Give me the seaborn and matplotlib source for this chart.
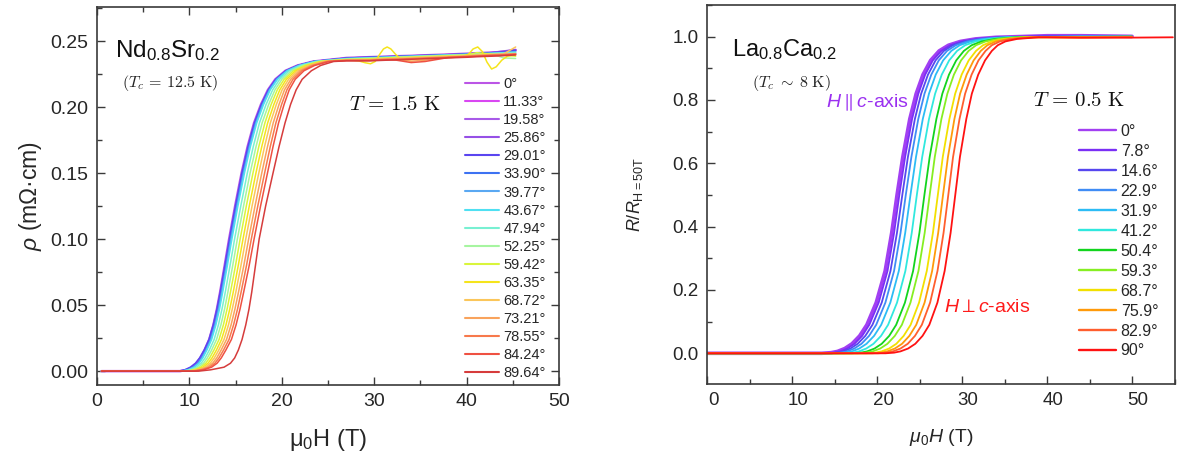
import numpy as np
import pandas as pd
import matplotlib
matplotlib.use("Agg")
import matplotlib.pyplot as plt
import matplotlib.transforms as mtransforms
from matplotlib.ticker import MultipleLocator, FormatStrFormatter
import seaborn as sns

# ---------------- Left panel: Nd0.8Sr0.2, T = 1.5 K ----------------
left_angles = ["0°", "11.33°", "19.58°", "25.86°", "29.01°", "33.90°", "39.77°", "43.67°",
               "47.94°", "52.25°", "59.42°", "63.35°", "68.72°", "73.21°", "78.55°", "84.24°", "89.64°"]
left_colors = ["#bb55e6", "#d947f2", "#a85ae8", "#9650e6", "#5a45f0", "#3d72f2", "#5aa8f2", "#4fe0f2",
               "#78f0d2", "#a6f5a0", "#d9f53c", "#f5e41c", "#fbc65a", "#f9a35c", "#f7794c", "#ef5142", "#d63c3c"]

# resistivity levels of the rising part (mΩ·cm)
rho_levels = [0.0, 0.001, 0.003, 0.006, 0.010, 0.016, 0.024, 0.035, 0.047, 0.060, 0.080,
              0.100, 0.125, 0.150, 0.170, 0.188, 0.202, 0.213, 0.221, 0.2275, 0.2315, 0.2345]
# field (T) at which each curve reaches the levels above
left_rise_H = {
    "0°":     [9.0, 9.7, 10.3, 10.8, 11.2, 11.65, 12.15, 12.6, 12.98, 13.33, 13.82, 14.3, 14.95, 15.65, 16.3, 17.0, 17.75, 18.5, 19.3, 20.4, 21.7, 23.4],
    "11.33°": [9.05, 9.75, 10.35, 10.85, 11.25, 11.7, 12.2, 12.65, 13.03, 13.38, 13.87, 14.35, 15.0, 15.7, 16.35, 17.05, 17.8, 18.55, 19.35, 20.45, 21.75, 23.45],
    "19.58°": [9.05, 9.75, 10.35, 10.87, 11.27, 11.72, 12.22, 12.67, 13.06, 13.41, 13.9, 14.38, 15.03, 15.73, 16.38, 17.08, 17.83, 18.57, 19.37, 20.46, 21.76, 23.45],
    "25.86°": [9.06, 9.77, 10.38, 10.89, 11.29, 11.74, 12.25, 12.7, 13.08, 13.43, 13.93, 14.41, 15.06, 15.76, 16.41, 17.1, 17.85, 18.59, 19.39, 20.48, 21.77, 23.47],
    "29.01°": [8.8, 9.5, 10.1, 10.65, 11.1, 11.6, 12.12, 12.58, 12.98, 13.34, 13.84, 14.33, 14.98, 15.68, 16.33, 17.03, 17.78, 18.53, 19.33, 20.43, 21.73, 23.43],
    "33.90°": [9.08, 9.8, 10.42, 10.92, 11.32, 11.78, 12.28, 12.73, 13.12, 13.47, 13.97, 14.45, 15.1, 15.8, 16.45, 17.15, 17.89, 18.63, 19.42, 20.51, 21.8, 23.49],
    "39.77°": [9.11, 9.84, 10.46, 10.97, 11.37, 11.82, 12.33, 12.78, 13.17, 13.52, 14.02, 14.5, 15.16, 15.86, 16.51, 17.2, 17.94, 18.67, 19.46, 20.55, 21.84, 23.53],
    "43.67°": [9.17, 9.9, 10.53, 11.04, 11.45, 11.9, 12.41, 12.87, 13.26, 13.61, 14.11, 14.6, 15.25, 15.96, 16.6, 17.29, 18.03, 18.75, 19.54, 20.62, 21.9, 23.59],
    "47.94°": [9.33, 10.11, 10.76, 11.28, 11.7, 12.16, 12.68, 13.14, 13.53, 13.89, 14.4, 14.89, 15.56, 16.27, 16.91, 17.58, 18.3, 19.01, 19.77, 20.84, 22.11, 23.77],
    "52.25°": [9.5, 10.31, 10.99, 11.53, 11.94, 12.41, 12.94, 13.41, 13.81, 14.17, 14.69, 15.19, 15.86, 16.57, 17.21, 17.87, 18.58, 19.26, 20.01, 21.06, 22.31, 23.96],
    "59.42°": [9.66, 10.51, 11.22, 11.77, 12.19, 12.66, 13.21, 13.68, 14.08, 14.45, 14.99, 15.49, 16.16, 16.88, 17.51, 18.17, 18.85, 19.51, 20.25, 21.28, 22.51, 24.15],
    "63.35°": [9.83, 10.73, 11.47, 12.02, 12.45, 12.93, 13.48, 13.96, 14.37, 14.75, 15.29, 15.8, 16.48, 17.2, 17.83, 18.47, 19.14, 19.78, 20.49, 21.51, 22.73, 24.34],
    "68.72°": [10.0, 10.93, 11.7, 12.26, 12.7, 13.18, 13.75, 14.23, 14.64, 15.03, 15.58, 16.1, 16.78, 17.51, 18.13, 18.76, 19.41, 20.03, 20.73, 21.73, 22.93, 24.53],
    "73.21°": [10.17, 11.14, 11.94, 12.52, 12.96, 13.44, 14.02, 14.51, 14.93, 15.32, 15.89, 16.41, 17.1, 17.83, 18.45, 19.07, 19.7, 20.29, 20.98, 21.96, 23.14, 24.73],
    "78.55°": [10.34, 11.35, 12.17, 12.76, 13.2, 13.7, 14.29, 14.78, 15.21, 15.6, 16.18, 16.7, 17.4, 18.14, 18.75, 19.36, 19.98, 20.55, 21.21, 22.18, 23.35, 24.91],
    "84.24°": [10.5, 11.55, 12.4, 13.0, 13.45, 13.95, 14.55, 15.05, 15.48, 15.88, 16.47, 17.0, 17.7, 18.45, 19.05, 19.65, 20.25, 20.8, 21.45, 22.4, 23.55, 25.1],
    "89.64°": [11.0, 12.3, 13.75, 14.45, 14.9, 15.3, 15.7, 16.1, 16.45, 16.75, 17.15, 17.55, 18.25, 19.05, 19.7, 20.35, 20.95, 21.55, 22.2, 23.2, 24.2, 25.6],
}
# plateau part, common field grid (T) and resistivity values
left_plateau_H = [27, 29.5, 31.4, 32.4, 34, 35.5, 38, 40, 41.1, 42.7, 44, 45.3]
left_plateau_rho = {
    "0°":     [0.2372, 0.2378, 0.2382, 0.2385, 0.2388, 0.2392, 0.2398, 0.2404, 0.2408, 0.2413, 0.2418, 0.2432],
    "11.33°": [0.2371, 0.2377, 0.2381, 0.2384, 0.2387, 0.2391, 0.2397, 0.2403, 0.2407, 0.2412, 0.2417, 0.2428],
    "19.58°": [0.2371, 0.2377, 0.2381, 0.2384, 0.2388, 0.2391, 0.2397, 0.2402, 0.2406, 0.2411, 0.2418, 0.2425],
    "25.86°": [0.2370, 0.2376, 0.2380, 0.2383, 0.2387, 0.2390, 0.2396, 0.2401, 0.2406, 0.2412, 0.2425, 0.2435],
    "29.01°": [0.2371, 0.2378, 0.2382, 0.2384, 0.2388, 0.2391, 0.2397, 0.2402, 0.2407, 0.2412, 0.2418, 0.2430],
    "33.90°": [0.2369, 0.2375, 0.2379, 0.2382, 0.2385, 0.2389, 0.2395, 0.2400, 0.2404, 0.2408, 0.2395, 0.2405],
    "39.77°": [0.2367, 0.2373, 0.2378, 0.2381, 0.2384, 0.2388, 0.2394, 0.2399, 0.2403, 0.2407, 0.2412, 0.2420],
    "43.67°": [0.2366, 0.2372, 0.2377, 0.2380, 0.2383, 0.2387, 0.2393, 0.2398, 0.2402, 0.2406, 0.2411, 0.2415],
    "47.94°": [0.2364, 0.2370, 0.2375, 0.2378, 0.2382, 0.2386, 0.2392, 0.2397, 0.2401, 0.2405, 0.2410, 0.2412],
    "52.25°": [0.2362, 0.2368, 0.2373, 0.2376, 0.2380, 0.2384, 0.2390, 0.2395, 0.2399, 0.2403, 0.2372, 0.2368],
    "59.42°": [0.2360, 0.2366, 0.2372, 0.2375, 0.2378, 0.2382, 0.2388, 0.2393, 0.2412, 0.2400, 0.2395, 0.2385],
    "68.72°": [0.2357, 0.2360, 0.2367, 0.2370, 0.2374, 0.2378, 0.2384, 0.2389, 0.2393, 0.2398, 0.2402, 0.2455],
    "73.21°": [0.2355, 0.2357, 0.2365, 0.2362, 0.2347, 0.2355, 0.2378, 0.2386, 0.2392, 0.2396, 0.2400, 0.2405],
    "78.55°": [0.2353, 0.2354, 0.2360, 0.2363, 0.2367, 0.2372, 0.2378, 0.2383, 0.2387, 0.2392, 0.2396, 0.2402],
    "84.24°": [0.2352, 0.2352, 0.2358, 0.2355, 0.2337, 0.2345, 0.2375, 0.2381, 0.2385, 0.2390, 0.2393, 0.2398],
    "89.64°": [0.2350, 0.2350, 0.2355, 0.2358, 0.2362, 0.2366, 0.2372, 0.2377, 0.2381, 0.2385, 0.2389, 0.2395],
}
# the 63.35° curve oscillates on the plateau, so it has its own grid
yellow_plateau_H = [27, 28.3, 29.0, 29.6, 30.1, 30.6, 31.0, 31.4, 31.8, 32.3, 32.8, 33.3, 34.5, 36, 38,
                    39.5, 40.2, 40.7, 41.2, 41.7, 42.2, 42.7, 43.2, 43.8, 44.4, 45.3]
yellow_plateau_rho = [0.2358, 0.2350, 0.2336, 0.2328, 0.2345, 0.2400, 0.2440, 0.2455, 0.2440, 0.2400,
                      0.2368, 0.2355, 0.2362, 0.2368, 0.2375, 0.2380, 0.2400, 0.2440, 0.2455, 0.2420,
                      0.2340, 0.2288, 0.2305, 0.2355, 0.2385, 0.2395]
left_start_H = 0.5

# ---------------- Right panel: La0.8Ca0.2, T = 0.5 K ----------------
right_angles = ["0°", "7.8°", "14.6°", "22.9°", "31.9°", "41.2°", "50.4°", "59.3°", "68.7°", "75.9°", "82.9°", "90°"]
right_colors = ["#a23ff2", "#7a2ff5", "#5646ef", "#3f8cf5", "#2cbcf5", "#30e8de", "#12d41e", "#86ee22",
                "#f2e000", "#ff9a0a", "#ff5e2e", "#ff1212"]
R_levels = [0.0, 0.002, 0.006, 0.015, 0.03, 0.055, 0.09, 0.16, 0.26, 0.38, 0.50, 0.62, 0.74,
            0.82, 0.88, 0.925, 0.955, 0.973, 0.985, 0.993, 0.998]
right_rise_H = {
    "0°":    [13.5, 14.6, 15.35, 16.2, 17.05, 17.95, 18.8, 19.9, 20.95, 21.72, 22.35, 23.03, 23.85, 24.6, 25.4, 26.3, 27.3, 28.4, 29.8, 31.6, 34.0],
    "7.8°":  [13.8, 14.9, 15.65, 16.5, 17.35, 18.25, 19.09, 20.19, 21.23, 22.0, 22.62, 23.3, 24.12, 24.86, 25.66, 26.56, 27.55, 28.63, 30.01, 31.8, 34.2],
    "14.6°": [14.18, 15.27, 16.02, 16.87, 17.72, 18.62, 19.46, 20.55, 21.58, 22.34, 22.97, 23.63, 24.45, 25.19, 25.99, 26.88, 27.86, 28.92, 30.28, 32.04, 34.45],
    "22.9°": [14.63, 15.71, 16.46, 17.32, 18.17, 19.06, 19.9, 20.98, 22.0, 22.76, 23.38, 24.04, 24.85, 25.58, 26.38, 27.26, 28.23, 29.27, 30.6, 32.34, 34.75],
    "31.9°": [15.23, 16.3, 17.05, 17.91, 18.76, 19.65, 20.49, 21.56, 22.56, 23.31, 23.93, 24.58, 25.38, 26.11, 26.9, 27.77, 28.73, 29.73, 31.02, 32.73, 35.15],
    "41.2°": [16.05, 17.12, 17.87, 18.73, 19.58, 20.47, 21.3, 22.35, 23.33, 24.08, 24.68, 25.31, 26.11, 26.83, 27.61, 28.48, 29.41, 30.37, 31.6, 33.27, 35.7],
    "50.4°": [17.03, 18.08, 18.83, 19.7, 20.55, 21.43, 22.25, 23.28, 24.24, 24.98, 25.57, 26.19, 26.98, 27.68, 28.46, 29.31, 30.21, 31.13, 32.29, 33.9, 36.35],
    "59.3°": [17.7, 18.74, 19.49, 20.37, 21.22, 22.09, 22.92, 23.93, 24.87, 25.6, 26.19, 26.79, 27.57, 28.27, 29.04, 29.88, 30.77, 31.65, 32.77, 34.34, 36.8],
    "68.7°": [18.75, 19.78, 20.53, 21.42, 22.27, 23.13, 23.95, 24.94, 25.85, 26.57, 27.15, 27.73, 28.51, 29.19, 29.95, 30.78, 31.64, 32.46, 33.51, 35.03, 37.5],
    "75.9°": [19.43, 20.45, 21.2, 22.09, 22.94, 23.8, 24.61, 25.59, 26.48, 27.19, 27.76, 28.34, 29.1, 29.77, 30.54, 31.36, 32.2, 32.98, 33.99, 35.47, 37.95],
    "82.9°": [20.1, 21.11, 21.86, 22.76, 23.61, 24.46, 25.27, 26.24, 27.11, 27.82, 28.38, 28.94, 29.7, 30.36, 31.12, 31.93, 32.76, 33.5, 34.46, 35.91, 38.4],
    "90°":   [21.0, 22.0, 22.75, 23.65, 24.5, 25.35, 26.15, 27.1, 27.95, 28.65, 29.2, 29.75, 30.5, 31.15, 31.9, 32.7, 33.5, 34.2, 35.1, 36.5, 39.0],
}
right_plateau_H = [40, 44, 50]
right_plateau_R = {
    "0°":    [1.003, 1.003, 1.001],
    "7.8°":  [1.002, 1.002, 1.000],
    "14.6°": [1.001, 1.001, 1.000],
    "22.9°": [1.000, 1.001, 1.000],
    "31.9°": [0.999, 1.000, 1.000],
    "41.2°": [0.999, 1.000, 1.000],
    "50.4°": [0.999, 0.999, 1.000],
    "59.3°": [0.999, 0.999, 1.000],
    "68.7°": [0.998, 0.998, 0.999],
    "75.9°": [0.998, 0.998, 0.999],
    "82.9°": [0.998, 0.997, 0.998],
    "90°":   [0.998, 0.997, 0.997],
}
red_tail_H = [54.8]
red_tail_R = [0.998]
right_start_H = 0.0

# ---------------- build tables ----------------
rows = []
for a in left_angles:
    if a == "63.35°":
        pH, pY = yellow_plateau_H, yellow_plateau_rho
    else:
        pH, pY = left_plateau_H, left_plateau_rho[a]
    Hs = [left_start_H] + left_rise_H[a] + pH
    ys = [0.0] + rho_levels + pY
    for h, y in zip(Hs, ys):
        rows.append((a, h, y))
df_left = pd.DataFrame(rows, columns=["angle", "H", "rho"])

rows = []
for a in right_angles:
    Hs = [right_start_H] + right_rise_H[a] + right_plateau_H
    ys = [0.0] + R_levels + right_plateau_R[a]
    if a == "90°":
        Hs = Hs + red_tail_H
        ys = ys + red_tail_R
    for h, y in zip(Hs, ys):
        rows.append((a, h, y))
df_right = pd.DataFrame(rows, columns=["angle", "H", "R"])

# ---------------- style ----------------
sns.set_theme(style="white")
plt.rcParams["font.family"] = ["Liberation Sans", "DejaVu Sans"]
plt.rcParams["mathtext.fontset"] = "custom"
plt.rcParams["mathtext.rm"] = "Liberation Sans"
plt.rcParams["mathtext.it"] = "Liberation Sans:italic"
plt.rcParams["mathtext.bf"] = "Liberation Sans:bold"

fig = plt.figure(figsize=(11.78, 4.59), dpi=100)
ax1 = fig.add_axes([0.0823, 0.1612, 0.3923, 0.8242])
ax2 = fig.add_axes([0.6002, 0.1634, 0.3969, 0.8257])

sns.lineplot(data=df_left, x="H", y="rho", hue="angle", hue_order=left_angles,
             palette=left_colors, estimator=None, sort=True, linewidth=1.1, ax=ax1)
sns.lineplot(data=df_right, x="H", y="R", hue="angle", hue_order=right_angles,
             palette=right_colors, estimator=None, sort=True, linewidth=1.3, ax=ax2)

# thicker bunch of purple curves (several overlapping sweeps in the original)
data_lines_r = [l for l in ax2.get_lines() if len(l.get_xdata()) > 0]
data_lines_r[0].set_linewidth(2.6)
data_lines_l = [l for l in ax1.get_lines() if len(l.get_xdata()) > 0]
data_lines_l[0].set_linewidth(1.8)

spine_c = "#3a3a3a"
for ax in (ax1, ax2):
    for s in ax.spines.values():
        s.set_color(spine_c)
        s.set_linewidth(1.2)
        s.set_visible(True)

# left axes
ax1.set_xlim(0, 50)
ax1.set_ylim(-0.0105, 0.276)
ax1.xaxis.set_major_locator(MultipleLocator(10))
ax1.xaxis.set_minor_locator(MultipleLocator(5))
ax1.yaxis.set_major_locator(MultipleLocator(0.05))
ax1.yaxis.set_minor_locator(MultipleLocator(0.025))
ax1.yaxis.set_major_formatter(FormatStrFormatter("%.2f"))
ax1.tick_params(which="both", direction="in", top=True, right=True, bottom=True, left=True,
                color=spine_c, width=1.0)
ax1.tick_params(which="major", length=6, labelsize=14, pad=6)
ax1.tick_params(which="minor", length=3.5)
ax1.set_xlabel("μ$_\\mathregular{0}$H (T)", fontsize=17, va="center")
ax1.set_ylabel("$\\rho$ (mΩ·cm)", fontsize=16.5, va="center")
ax1.xaxis.set_label_coords(0.5, -0.145)
ax1.yaxis.set_label_coords(-0.143, 0.5)

# right axes
ax2.set_xlim(0, 55)
ax2.set_ylim(-0.097, 1.1)
ax2.xaxis.set_major_locator(MultipleLocator(10))
ax2.xaxis.set_minor_locator(MultipleLocator(5))
ax2.yaxis.set_major_locator(MultipleLocator(0.2))
ax2.yaxis.set_minor_locator(MultipleLocator(0.1))
ax2.yaxis.set_major_formatter(FormatStrFormatter("%.1f"))
ax2.tick_params(which="both", direction="in", top=False, right=False, bottom=True, left=True,
                color=spine_c, width=1.0)
ax2.tick_params(which="major", length=6, labelsize=13.5, pad=6)
ax2.tick_params(which="minor", length=3.5)
ax2.set_xlabel("$\\mu_0H$ (T)", fontsize=14, va="center")
ax2.set_ylabel("$R/R_{\\mathregular{H=50T}}$", fontsize=13, va="center")
ax2.xaxis.set_label_coords(0.5, -0.14)
ax2.yaxis.set_label_coords(-0.155, 0.5)
offset = mtransforms.ScaledTranslation(6 / 100, 0, fig.dpi_scale_trans)
for lab in ax2.xaxis.get_majorticklabels():
    lab.set_transform(lab.get_transform() + offset)

# legends
h1, l1 = ax1.get_legend_handles_labels()
for h in h1:
    h.set_linewidth(1.5)
ax1.legend(h1, l1, loc="upper left", bbox_to_anchor=(0.797, 0.814), frameon=False,
           fontsize=10.5, handlelength=2.3, handletextpad=0.3, labelspacing=0.28,
           borderpad=0, borderaxespad=0)
h2, l2 = ax2.get_legend_handles_labels()
for h in h2:
    h.set_linewidth(1.7)
ax2.legend(h2, l2, loc="upper left", bbox_to_anchor=(0.796, 0.686), frameon=False,
           fontsize=11.5, handlelength=2.3, handletextpad=0.3, labelspacing=0.31,
           borderpad=0, borderaxespad=0)

# annotations
ax1.text(0.039, 0.868, "Nd$_{\\mathregular{0.8}}$Sr$_{\\mathregular{0.2}}$", transform=ax1.transAxes,
         fontsize=17.5, va="baseline", ha="left", color="#111111")
ax1.text(0.054, 0.797, "$(T_c\\,=\\,12.5\\ \\mathrm{K})$", transform=ax1.transAxes,
         fontsize=11.5, va="center", ha="left", math_fontfamily="cm", color="#222222")
ax1.text(0.545, 0.742, "$T\\,=\\,1.5\\ \\mathrm{K}$", transform=ax1.transAxes,
         fontsize=15, va="center", ha="left", math_fontfamily="cm", color="#111111")

ax2.text(0.053, 0.864, "La$_{\\mathregular{0.8}}$Ca$_{\\mathregular{0.2}}$", transform=ax2.transAxes,
         fontsize=17, va="baseline", ha="left", color="#111111")
ax2.text(0.096, 0.794, "$(T_c\\;\\sim\\;8\\ \\mathrm{K})$", transform=ax2.transAxes,
         fontsize=11.5, va="center", ha="left", math_fontfamily="cm", color="#222222")
ax2.text(0.255, 0.741, "$H\\parallel c$-axis", transform=ax2.transAxes,
         fontsize=14, va="center", ha="left", color="#9a30f0")
ax2.text(0.697, 0.749, "$T\\,=\\,0.5\\ \\mathrm{K}$", transform=ax2.transAxes,
         fontsize=15, va="center", ha="left", math_fontfamily="cm", color="#111111")
ax2.text(0.506, 0.203, "$H\\perp c$-axis", transform=ax2.transAxes,
         fontsize=14, va="center", ha="left", color="#ff1a1a")

fig.savefig("out.png", dpi=100)
